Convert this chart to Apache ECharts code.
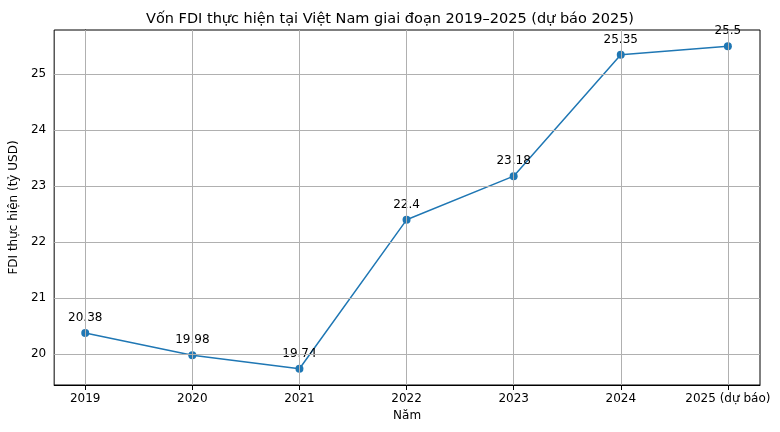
<!DOCTYPE html>
<html>
<head>
<meta charset="utf-8">
<script src="https://cdn.jsdelivr.net/npm/echarts@6/dist/echarts.min.js"></script>
<style>html,body{margin:0;padding:0;background:#fff}#main{width:780px;height:432px}</style>
</head>
<body>
<div id="main"></div>
<script>
const years = ['2019', '2020', '2021', '2022', '2023', '2024', '2025 (dự báo)'];
const fdi = [20.38, 19.98, 19.74, 22.4, 23.18, 25.35, 25.5];
const yTicks = [20, 21, 22, 23, 24, 25];

const xIdx = years.map((y, i) => i);
const font = 'DejaVu Sans';

// grid lines drawn as markLines, since the axis ends are not on tick values
const gridLines = xIdx.map(i => ({ xAxis: i })).concat(yTicks.map(v => ({ yAxis: v })));

const chart = echarts.init(document.getElementById('main'));
chart.setOption({
    animation: false,
    textStyle: { fontFamily: font },
    title: {
        text: 'Vốn FDI thực hiện tại Việt Nam giai đoạn 2019–2025 (dự báo 2025)',
        left: 'center', top: 7,
        textStyle: { fontSize: 14.5, fontWeight: 'normal', color: '#000', fontFamily: font }
    },
    grid: { left: 52, right: 20, top: 30, bottom: 47, show: true, borderColor: '#000', borderWidth: 1 },
    xAxis: {
        type: 'value', min: -0.29, max: 6.3,
        name: 'Năm', nameLocation: 'middle', nameGap: 24,
        nameTextStyle: { fontSize: 12, color: '#000' },
        axisLine: { lineStyle: { color: '#000' } },
        splitLine: { show: false },
        axisTick: { customValues: xIdx, lineStyle: { color: '#000' } },
        axisLabel: { customValues: xIdx, formatter: v => years[Math.round(v)], fontSize: 12, color: '#000', margin: 8 }
    },
    yAxis: {
        type: 'value', min: 19.45, max: 25.79,
        name: 'FDI thực hiện (tỷ USD)', nameLocation: 'middle', nameGap: 34,
        nameTextStyle: { fontSize: 12, color: '#000' },
        axisLine: { show: true, lineStyle: { color: '#000' } },
        splitLine: { show: false },
        axisTick: { show: true, customValues: yTicks, lineStyle: { color: '#000' } },
        axisLabel: { customValues: yTicks, fontSize: 12, color: '#000' }
    },
    series: [{
        type: 'line',
        data: xIdx.map(i => [i, fdi[i]]),
        color: '#1f77b4',
        lineStyle: { width: 1.5 },
        symbol: 'circle', symbolSize: 8,
        itemStyle: { color: '#1f77b4' },
        label: { show: true, position: 'top', distance: 5, fontSize: 12, color: '#000', formatter: p => String(fdi[p.dataIndex]) },
        markLine: {
            silent: true, symbol: 'none', label: { show: false },
            lineStyle: { color: '#b0b0b0', type: 'solid', width: 1 },
            data: gridLines
        },
        z: 3
    }]
});
</script>
</body>
</html>
